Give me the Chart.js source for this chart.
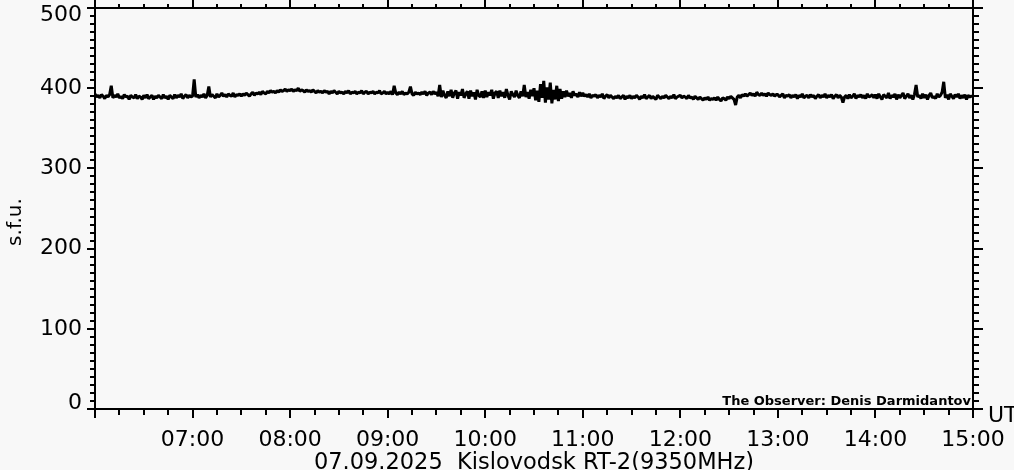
<!DOCTYPE html>
<html>
<head>
<meta charset="utf-8">
<script src="https://cdn.jsdelivr.net/npm/chart.js@4"></script>
<style>
  html, body { margin: 0; padding: 0; background: #f8f8f8; }
  canvas { display: block; }
</style>
</head>
<body>
<canvas id="rt2" width="1014" height="470"></canvas>
<script>
// RT-2 9350 MHz, 07.09.2025, one sample per minute from 06:00 UT
var startHour = 6;
var stepMinutes = 1;
var sfu = [
    // 06:00
    393,389,391,388,392,390,387,391,389,392, 403,388,391,389,393,388,390,387,392,389,
    390,386,391,389,388,392,387,390,389,386, 391,388,392,387,389,391,386,390,388,391,
    389,387,392,388,390,386,391,389,387,392, 388,391,389,393,387,390,392,388,391,389,
    // 07:00
    390,411,389,392,388,391,389,393,388,391, 402,389,392,390,388,393,389,391,394,390,
    392,389,393,391,390,394,389,392,391,393, 390,393,391,394,392,390,393,395,391,394,
    393,395,392,396,394,393,396,394,397,395, 396,394,397,395,398,396,397,399,396,398,
    // 08:00
    397,399,396,398,397,400,396,398,397,395, 398,396,397,395,398,396,394,397,395,396,
    394,397,395,396,393,396,394,397,395,393, 396,394,395,393,396,394,397,393,395,394,
    396,393,395,394,397,393,395,396,393,395, 394,396,393,395,394,397,393,394,396,393,
    // 09:00
    395,393,396,392,403,394,392,395,393,396, 392,394,393,395,402,393,391,395,393,394,
    392,395,393,396,391,394,395,392,396,393, 395,390,404,389,397,391,388,396,390,398,
    388,394,397,387,395,391,399,388,393,396, 387,397,390,395,386,398,391,389,396,388,
    // 10:00
    397,389,395,391,398,387,394,396,388,397, 390,395,388,399,391,386,396,392,389,397,
    391,388,396,390,404,389,395,387,398,390, 400,385,397,383,405,388,409,382,401,386,
    407,381,398,386,403,384,399,387,396,389, 397,390,394,388,396,391,393,389,395,390,
    // 11:00
    394,390,392,389,393,388,391,390,392,388, 391,389,393,387,390,392,388,391,389,387,
    390,388,391,387,389,391,386,390,388,391, 387,390,388,391,389,386,390,388,392,387,
    389,391,387,390,388,386,391,389,387,390, 388,391,389,387,390,388,392,387,389,390,
    // 12:00
    391,388,390,389,387,391,388,389,386,390, 388,386,389,387,385,388,386,389,385,387,
    386,388,385,389,386,384,388,387,385,389, 387,390,388,386,379,389,391,388,392,390,
    393,390,392,394,391,393,390,395,392,391, 394,391,393,390,394,392,391,393,390,392,
    // 13:00
    392,389,391,393,388,391,390,392,388,391, 389,392,387,391,389,393,388,390,391,388,
    392,389,391,387,390,392,388,391,389,393, 388,391,389,392,387,390,392,388,391,389,
    382,389,391,387,392,388,390,393,387,391, 389,392,388,391,387,393,389,390,392,388,
    // 14:00
    392,387,393,389,386,392,390,388,394,387, 391,389,393,386,392,388,391,394,387,390,
    393,388,391,386,392,404,389,391,387,393, 388,392,386,391,394,388,390,387,393,389,
    391,395,408,388,392,386,393,390,387,392, 389,393,387,391,388,392,386,391,389,390,
    // 15:00
    390
];
var hourTicks = [7, 8, 9, 10, 11, 12, 13, 14, 15];
var sfuTicks = [0, 100, 200, 300, 400, 500];
var dateTitle = "07.09.2025  Kislovodsk RT-2(9350MHz)";
var observer = "The Observer: Denis Darmidantov";

var points = sfu.map(function(v, i) {
    return { x: startHour + i * stepMinutes / 60, y: v };
});

function hhmm(h) {
    return (h < 10 ? "0" : "") + h + ":00";
}

var frame = {
    id: "frame",
    afterDraw: function(chart) {
        var ctx = chart.ctx;
        var xs = chart.scales.x, ys = chart.scales.y;
        var a = chart.chartArea;
        ctx.save();
        ctx.strokeStyle = "#000";
        ctx.fillStyle = "#000";
        ctx.lineWidth = 2;
        ctx.strokeRect(a.left, a.top, a.right - a.left, a.bottom - a.top);
        ctx.beginPath();
        // time ticks every 15 minutes, hours longer
        for (var q = 0; q <= 36; q++) {
            var t = 6 + q / 4;
            var px = Math.round(xs.getPixelForValue(t));
            var major = q % 4 === 0;
            ctx.moveTo(px, a.bottom);
            ctx.lineTo(px, a.bottom + (major ? 9 : 6));
            ctx.moveTo(px, a.top);
            ctx.lineTo(px, a.top - (major ? 8 : 4));
        }
        // flux ticks every 10 sfu, hundreds longer
        for (var s = 0; s <= 500; s += 10) {
            var py = Math.round(ys.getPixelForValue(s));
            var big = s % 100 === 0;
            ctx.moveTo(a.left, py);
            ctx.lineTo(a.left - (big ? 8 : 5), py);
            ctx.moveTo(a.right, py);
            ctx.lineTo(a.right + (big ? 10 : 6), py);
        }
        ctx.stroke();

        ctx.font = "22px 'DejaVu Sans'";
        ctx.textAlign = "right";
        ctx.textBaseline = "middle";
        sfuTicks.forEach(function(v) {
            var y = ys.getPixelForValue(v);
            y = Math.max(a.top + 7, Math.min(a.bottom - 6, y));
            ctx.fillText(String(v), a.left - 13, y);
        });
        ctx.textAlign = "center";
        ctx.textBaseline = "alphabetic";
        hourTicks.forEach(function(h) {
            ctx.fillText(hhmm(h), xs.getPixelForValue(h), a.bottom + 37);
        });
        ctx.font = "22.5px 'DejaVu Sans'";
        ctx.fillText(dateTitle, (a.left + a.right) / 2, a.bottom + 60);
        ctx.font = "22px 'DejaVu Sans'";
        ctx.textAlign = "left";
        ctx.fillText("UT", a.right + 15, a.bottom + 13);

        ctx.save();
        ctx.translate(21, 222);
        ctx.rotate(-Math.PI / 2);
        ctx.textAlign = "center";
        ctx.font = "20px 'DejaVu Sans'";
        ctx.fillText("s.f.u.", 0, 0);
        ctx.restore();

        ctx.font = "bold 13px 'DejaVu Sans'";
        ctx.textAlign = "right";
        ctx.fillText(observer, a.right - 2, a.bottom - 4);
        ctx.restore();
    }
};

var bg = {
    id: "bg",
    beforeDraw: function(chart) {
        var ctx = chart.ctx;
        ctx.save();
        ctx.fillStyle = "#f8f8f8";
        ctx.fillRect(0, 0, chart.width, chart.height);
        ctx.restore();
    }
};

new Chart(document.getElementById("rt2").getContext("2d"), {
    type: "line",
    data: {
        datasets: [{
            data: points,
            borderColor: "#000",
            borderWidth: 3,
            borderJoinStyle: "bevel",
            pointRadius: 0,
            tension: 0,
            fill: false
        }]
    },
    options: {
        responsive: false,
        animation: false,
        events: [],
        layout: { padding: { left: 0, right: 41, top: 8, bottom: 0 } },
        plugins: { legend: { display: false }, tooltip: { enabled: false } },
        scales: {
            x: {
                type: "linear",
                min: 6,
                max: 15,
                grid: { display: false },
                border: { display: false },
                ticks: { display: false },
                afterFit: function(scale) { scale.height = 61; }
            },
            y: {
                min: 0,
                max: 500,
                grid: { display: false },
                border: { display: false },
                ticks: { display: false },
                afterFit: function(scale) { scale.width = 95; }
            }
        }
    },
    plugins: [bg, frame]
});
</script>
</body>
</html>
